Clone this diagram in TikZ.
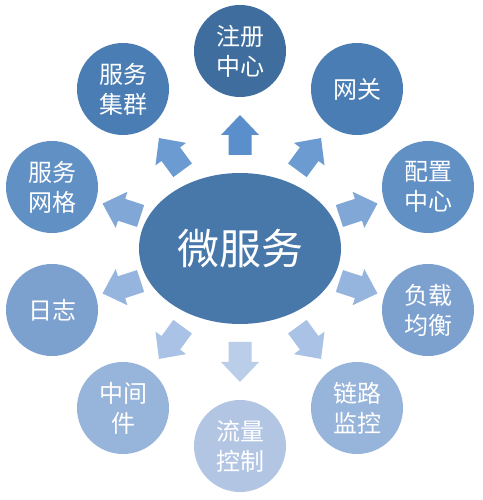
\documentclass[tikz,border=0pt]{standalone}
\usepackage{fontspec}
\newfontfamily\cjk{Noto Sans CJK SC}
\usetikzlibrary{calc}
\definecolor{cC}{HTML}{4877A9}
\definecolor{c1}{HTML}{3F6E9E}
\definecolor{c2}{HTML}{4B7DB5}
\definecolor{c3}{HTML}{6190C5}
\definecolor{c4}{HTML}{7DA1CF}
\definecolor{c5}{HTML}{97B4DA}
\definecolor{c6}{HTML}{B2C6E4}
\definecolor{a1}{HTML}{5A8FCB}
\definecolor{a2}{HTML}{6B9BD0}
\definecolor{a3}{HTML}{80A7D6}
\definecolor{a4}{HTML}{95B5DE}
\definecolor{a5}{HTML}{A9C2E5}
\definecolor{a6}{HTML}{BACDE9}
\tikzset{
  item/.style={circle, minimum size=92pt, inner sep=0pt, text=white, align=center,
    font=\cjk\fontsize{24}{30}\selectfont, fill=#1},
  hub/.style={ellipse, minimum width=202pt, minimum height=151pt, inner sep=0pt,
    fill=cC, text=white, font=\cjk\fontsize{42}{48}\selectfont},
  blockarrow/.pic={\fill[#1] (-20,-11.5) -- (0,-11.5) -- (0,-19) -- (20,0) -- (0,19) -- (0,11.5) -- (-20,11.5) -- cycle;}
}
\usetikzlibrary{shapes.geometric}
\begin{document}
\begin{tikzpicture}[x=1pt,y=1pt]
\useasboundingbox (0,0) rectangle (482,500);
\fill[white] (0,0) rectangle (482,500);
\coordinate (E) at (240,251.5);
\node[hub] (hub) at (E) {微服务};
% outer circles
\node[item=c1] (n1) at ($(E)+(0,197.5)$) {注册\\中心};
\node[item=c2] (n2) at ($(E)+(117,159.5)$) {网关};
\node[item=c3] (n3) at ($(E)+(188,61.5)$) {配置\\中心};
\node[item=c4] (n4) at ($(E)+(188,-61.5)$) {负载\\均衡};
\node[item=c5] (n5) at ($(E)+(117,-159.5)$) {链路\\监控};
\node[item=c6] (n6) at ($(E)+(0,-197.5)$) {流量\\控制};
\node[item=c5] (n7) at ($(E)+(-117,-159.5)$) {中间\\件};
\node[item=c4] (n8) at ($(E)+(-188,-61.5)$) {日志};
\node[item=c3] (n9) at ($(E)+(-188,61.5)$) {服务\\网格};
\node[item=c2] (n10) at ($(E)+(-117,159.5)$) {服务\\集群};
% block arrows
\pic[rotate=90] at ($(E)+(90:113.5)$) {blockarrow=a1};
\pic[rotate=53.74] at ($(E)+(53.74:117)$) {blockarrow=a2};
\pic[rotate=126.26] at ($(E)+(126.26:117)$) {blockarrow=a2};
\pic[rotate=18.11] at ($(E)+(18.11:124.6)$) {blockarrow=a3};
\pic[rotate=161.89] at ($(E)+(161.89:124.6)$) {blockarrow=a3};
\pic[rotate=-18.11] at ($(E)+(-18.11:124.6)$) {blockarrow=a4};
\pic[rotate=-161.89] at ($(E)+(-161.89:124.6)$) {blockarrow=a4};
\pic[rotate=-53.74] at ($(E)+(-53.74:117)$) {blockarrow=a5};
\pic[rotate=-126.26] at ($(E)+(-126.26:117)$) {blockarrow=a5};
\pic[rotate=-90] at ($(E)+(-90:113.5)$) {blockarrow=a6};
\end{tikzpicture}
\end{document}
